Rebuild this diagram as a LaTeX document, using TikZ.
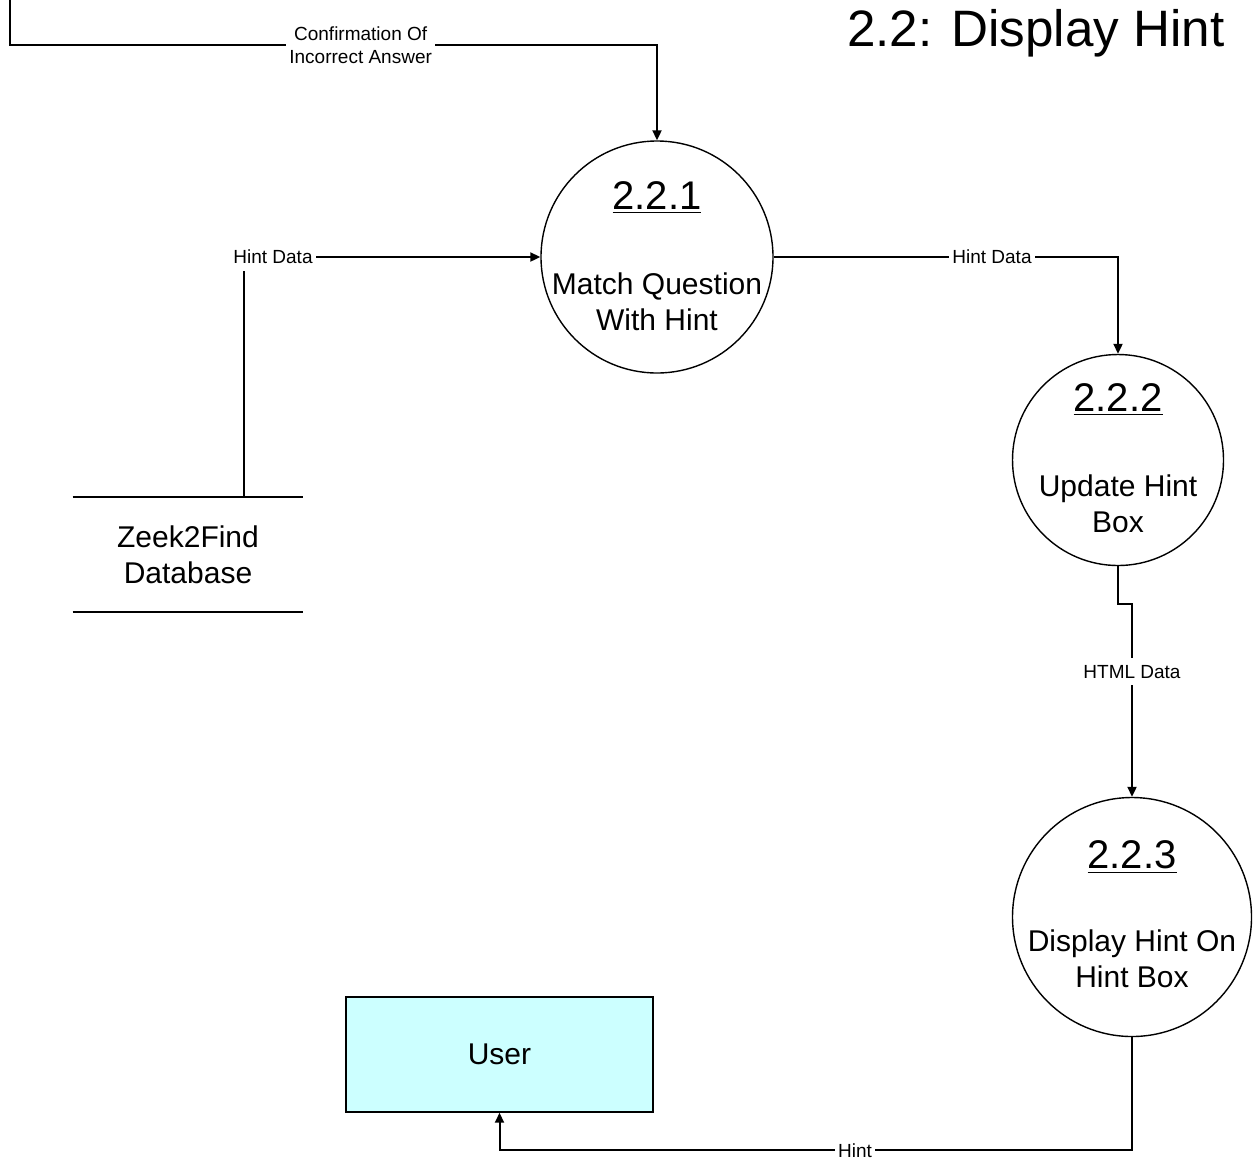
\documentclass[tikz,border=0pt]{standalone}
\usepackage{fontspec}
\setmainfont{Liberation Sans}
\usetikzlibrary{arrows.meta}
\begin{document}
\begin{tikzpicture}[x=0.5pt,y=-0.5pt,
    proc/.style={draw,circle,line width=.7pt,inner sep=0pt},
    num/.style={font=\fontsize{20}{24}\selectfont,inner sep=0pt},
    body/.style={font=\fontsize{15}{18}\selectfont,align=center,inner sep=0pt},
    lbl/.style={font=\fontsize{9.5}{11.5}\selectfont,align=center,fill=white,inner xsep=1.5pt,inner ysep=3.5pt},
    flow/.style={line width=1pt,-{Triangle[length=5pt,width=4.5pt]}}]
    \useasboundingbox (0,0) rectangle (1256,1158);
    % title
    \node[font=\fontsize{25.6}{30}\selectfont,anchor=base east,inner sep=0pt] (title) at (1225,46) {2.2: Display Hint};
    % processes
    \node[proc,minimum size=116pt]   (c1) at (657,257)  {};
    \node[num]  (n1) at ([yshift=29.5pt]c1.center) {\underline{2.2.1}};
    \node[body] (t1) at ([yshift=-22.5pt]c1.center) {Match Question\\With Hint};
    \node[proc,minimum size=105.5pt] (c2) at (1118,460) {};
    \node[num]  (n2) at ([yshift=30pt]c2.center) {\underline{2.2.2}};
    \node[body] (t2) at ([yshift=-22pt]c2.center) {Update Hint\\Box};
    \node[proc,minimum size=119.5pt] (c3) at (1132,917) {};
    \node[num]  (n3) at ([yshift=30pt]c3.center) {\underline{2.2.3}};
    \node[body] (t3) at ([yshift=-21pt]c3.center) {Display Hint On\\Hint Box};
    % data store and entity
    \node[body,minimum width=115pt,minimum height=57.5pt] (db) at (188,554.5) {Zeek2Find\\Database};
    \draw[line width=1pt] (db.north west) -- (db.north east);
    \draw[line width=1pt] (db.south west) -- (db.south east);
    \node[body,draw,line width=.7pt,fill={rgb,255:red,204;green,255;blue,255},minimum width=153.5pt,minimum height=57.5pt] (user) at (499.5,1054.5) {User};
    % flows
    \coordinate (top) at (10,0);
    \draw[flow] (top) -- (10,45) -| node[lbl,pos=.271] {Confirmation Of\\Incorrect Answer} (c1.north);
    \draw[flow] ([xshift=28pt]db.north) |- node[lbl,pos=.5,xshift=14.5pt] {Hint Data} (c1.west);
    \draw[flow] (c1.east) -| node[lbl,pos=.317] {Hint Data} (c2.north);
    \draw[flow] (c2.south) -- ++(0,38) -| node[lbl,pos=.675] {HTML Data} (c3.north);
    \draw[flow] (c3.south) -- ++(0,113) -| node[lbl,pos=.219] {Hint} (user.south);
  \end{tikzpicture}
\end{document}
